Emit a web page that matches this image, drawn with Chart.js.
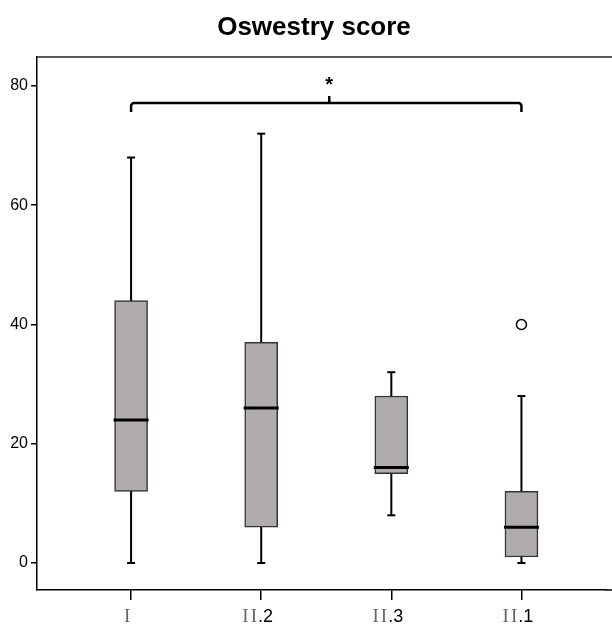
<!DOCTYPE html>
<html>
<head>
<meta charset="utf-8">
<script src="https://cdn.jsdelivr.net/npm/chart.js@4"></script>
<style>
  html, body { margin: 0; padding: 0; background: #fff; }
  #wrap { width: 612px; height: 624px; }
</style>
</head>
<body>
<div id="wrap"><canvas id="boxChart" width="612" height="624"></canvas></div>
<script>
// box plot values per group
const categories = ['I', 'II.2', 'II.3', 'II.1'];
const whiskerLow = [0, 0, 8, 0];
const q1 = [12, 6, 15, 1];
const medians = [24, 26, 16, 6];
const q3 = [44, 37, 28, 12];
const whiskerHigh = [68, 72, 32, 28];
const outlierGroup = [3];
const outlierValue = [40];
const yTicks = [0, 20, 40, 60, 80];
// significance bracket between groups
const sigFrom = 0;
const sigTo = 3;
const sigLevel = 77.15;
const sigLabel = '*';

const boxPlotExtras = {
  id: 'boxPlotExtras',
  beforeDatasetsDraw(chart) {
    const { ctx, scales: { x, y } } = chart;
    ctx.save();
    ctx.strokeStyle = '#000';
    ctx.lineWidth = 2;
    categories.forEach((c, i) => {
      const px = x.getPixelForValue(i);
      // whisker line
      ctx.beginPath();
      ctx.moveTo(px, y.getPixelForValue(whiskerLow[i]));
      ctx.lineTo(px, y.getPixelForValue(whiskerHigh[i]));
      ctx.stroke();
      // caps
      [whiskerLow[i], whiskerHigh[i]].forEach(v => {
        const py = y.getPixelForValue(v);
        ctx.beginPath();
        ctx.moveTo(px - 4, py);
        ctx.lineTo(px + 4, py);
        ctx.stroke();
      });
    });
    ctx.restore();
  },
  afterDatasetsDraw(chart) {
    const { ctx, chartArea, scales: { x, y } } = chart;
    ctx.save();
    // medians
    ctx.strokeStyle = '#000';
    ctx.lineWidth = 3;
    categories.forEach((c, i) => {
      const px = x.getPixelForValue(i);
      const py = y.getPixelForValue(medians[i]);
      ctx.beginPath();
      ctx.moveTo(px - 17.5, py);
      ctx.lineTo(px + 17.5, py);
      ctx.stroke();
    });

    // top frame line
    ctx.lineWidth = 1.5;
    ctx.strokeStyle = '#222';
    ctx.beginPath();
    ctx.moveTo(chartArea.left, chartArea.top);
    ctx.lineTo(chart.width, chartArea.top);
    ctx.stroke();
    // x axis line runs on to the canvas edge
    ctx.strokeStyle = '#000';
    ctx.beginPath();
    ctx.moveTo(chartArea.right, chartArea.bottom);
    ctx.lineTo(chart.width, chartArea.bottom);
    ctx.stroke();

    // significance bracket
    const x0 = x.getPixelForValue(sigFrom);
    const x1 = x.getPixelForValue(sigTo);
    const xm = (x0 + x1) / 2;
    const by = y.getPixelForValue(sigLevel);
    ctx.lineWidth = 2.5;
    ctx.strokeStyle = '#000';
    ctx.lineJoin = 'round';
    ctx.beginPath();
    ctx.moveTo(x0, by + 9);
    ctx.arcTo(x0, by, x0 + 4, by, 3);
    ctx.lineTo(x1 - 4, by);
    ctx.arcTo(x1, by, x1, by + 9, 3);
    ctx.lineTo(x1, by + 9);
    ctx.stroke();
    ctx.beginPath();
    ctx.moveTo(xm + 3, by);
    ctx.lineTo(xm + 3, by - 7);
    ctx.stroke();
    ctx.fillStyle = '#000';
    ctx.font = 'bold 20px "Liberation Sans", Arial, sans-serif';
    ctx.textAlign = 'center';
    ctx.textBaseline = 'middle';
    ctx.fillText(sigLabel, xm + 3, by - 17);

    // title
    ctx.font = 'bold 26px "Liberation Sans", Arial, sans-serif';
    ctx.textBaseline = 'alphabetic';
    ctx.fillText('Oswestry score', 314, 35);

    // x labels: roman part in grey serif, suffix in sans
    ctx.textAlign = 'left';
    categories.forEach((c, i) => {
      const dot = c.indexOf('.');
      const roman = dot < 0 ? c : c.slice(0, dot);
      const rest = dot < 0 ? '' : c.slice(dot);
      const serif = '19px "Liberation Serif", "Times New Roman", serif';
      const sans = '18px "Liberation Sans", Arial, sans-serif';
      ctx.font = serif;
      ctx.letterSpacing = '2px';
      const w1 = ctx.measureText(roman).width;
      ctx.letterSpacing = '0px';
      ctx.font = sans;
      const w2 = ctx.measureText(rest).width;
      const start = x.getPixelForValue(i) - 3 - (w1 + w2) / 2;
      ctx.font = serif;
      ctx.letterSpacing = '2px';
      ctx.fillStyle = '#666';
      ctx.fillText(roman, start, 622);
      ctx.letterSpacing = '0px';
      ctx.font = sans;
      ctx.fillStyle = '#000';
      ctx.fillText(rest, start + w1 - 1, 622);
    });
    ctx.restore();
  }
};

new Chart(document.getElementById('boxChart').getContext('2d'), {
  type: 'bar',
  data: {
    datasets: [
      {
        label: 'IQR',
        data: categories.map((c, i) => ({ x: i, y: [q1[i], q3[i]] })),
        backgroundColor: '#b0acab',
        borderColor: '#333',
        borderWidth: 1.5,
        borderSkipped: false,
        barThickness: 33,
      },
      {
        type: 'scatter',
        label: 'Outliers',
        data: outlierGroup.map((g, k) => ({ x: g, y: outlierValue[k] })),
        pointStyle: 'circle',
        pointRadius: 5,
        backgroundColor: '#fff',
        borderColor: '#000',
        borderWidth: 1.5,
      },
    ],
  },
  options: {
    responsive: false,
    animation: false,
    layout: { padding: { top: 57, left: 0, right: 0, bottom: 0 } },
    scales: {
      x: {
        type: 'linear',
        offset: false,
        min: -0.723,
        max: 3.646,
        afterBuildTicks: (scale) => { scale.ticks = categories.map((c, i) => ({ value: i })); },
        afterFit: (scale) => { scale.height = 34; },
        grid: { offset: false, drawOnChartArea: false, drawTicks: true, tickLength: 10, color: '#000', lineWidth: 1.5 },
        border: { display: true, color: '#000', width: 1.5 },
        ticks: { callback: () => '' },
      },
      y: {
        min: -4.53,
        max: 84.86,
        afterBuildTicks: (scale) => { scale.ticks = yTicks.map(v => ({ value: v })); },
        afterFit: (scale) => { scale.width = 37; },
        grid: { drawOnChartArea: false, drawTicks: true, tickLength: 6, color: '#000', lineWidth: 1.5 },
        border: { display: true, color: '#000', width: 1.5 },
        ticks: {
          color: '#000',
          padding: 3,
          font: { family: '"Liberation Sans", Arial, sans-serif', size: 16 },
        },
      },
    },
    plugins: {
      legend: { display: false },
      tooltip: { enabled: false },
      title: { display: false },
    },
  },
  plugins: [boxPlotExtras],
});
</script>
</body>
</html>
